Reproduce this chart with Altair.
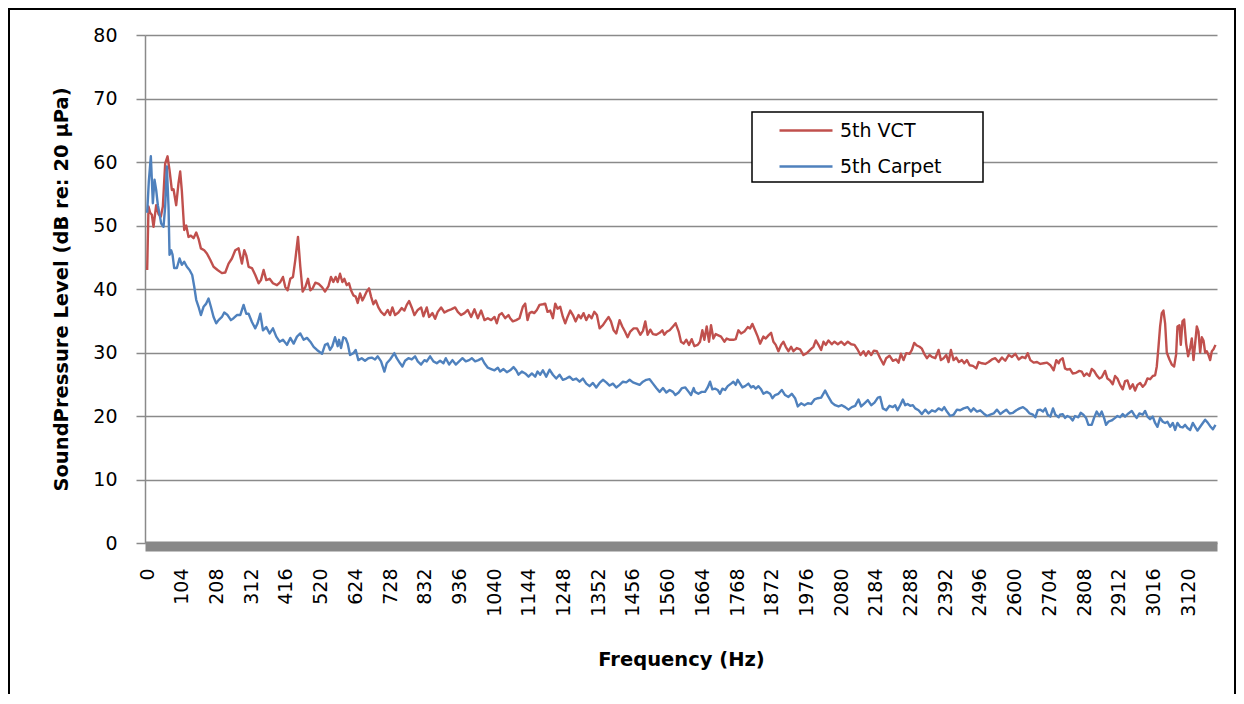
import altair as alt
import pandas as pd

series_names = ["5th VCT", "5th Carpet"]
series_colors = ["#C0504D", "#4F81BD"]
x_tick_values = [0, 104, 208, 312, 416, 520, 624, 728, 832, 936, 1040, 1144, 1248, 1352,
                 1456, 1560, 1664, 1768, 1872, 1976, 2080, 2184, 2288, 2392, 2496, 2600,
                 2704, 2808, 2912, 3016, 3120]
y_tick_values = [0, 10, 20, 30, 40, 50, 60, 70, 80]

# (frequency Hz, dB)
vct_points = [
    (0, 43.0), (4, 53.0), (9, 52.0), (14, 51.7), (19, 49.8), (27, 53.2), (34, 51.8), (41, 51.4),
    (47, 53.0), (54, 59.8), (61, 60.9), (67, 58.7), (74, 55.6), (79, 55.7), (87, 53.2), (94, 56.7),
    (99, 58.5), (104, 55.4), (111, 49.3), (117, 50.0), (124, 48.2), (131, 48.4), (139, 48.0),
    (147, 48.9), (154, 47.9), (161, 46.4), (171, 46.1), (179, 45.6), (189, 44.6), (199, 43.5),
    (211, 43.0), (224, 42.5), (234, 42.6), (244, 44.0), (254, 44.8), (264, 46.1), (274, 46.4),
    (284, 44.0), (291, 46.1), (297, 45.3), (304, 43.5), (314, 43.3), (324, 42.2), (334, 40.9),
    (341, 41.4), (349, 43.0), (357, 41.4), (367, 41.6), (377, 40.9), (389, 40.6), (399, 41.1),
    (407, 41.9), (414, 40.3), (421, 39.8), (429, 41.6), (437, 41.9), (444, 44.6), (452, 48.2),
    (459, 43.5), (466, 39.6), (474, 40.3), (482, 41.6), (489, 39.8), (496, 40.1), (504, 41.0),
    (514, 40.8), (524, 40.3),
    (533, 39.6), (543, 40.4), (551, 41.9), (558, 41.1), (565, 41.9), (571, 41.1), (578, 42.4),
    (585, 41.1), (591, 41.6), (598, 40.6), (605, 40.9), (611, 39.8), (618, 39.0), (625, 38.8),
    (631, 37.8), (638, 39.3), (645, 38.2), (651, 38.8), (658, 39.6), (665, 40.1), (671, 38.8),
    (678, 37.6), (685, 38.2), (693, 37.1), (701, 36.4), (711, 35.9), (721, 36.7), (728, 35.9),
    (735, 37.1), (743, 35.9), (753, 36.3), (763, 37.0), (771, 36.6), (778, 37.5), (785, 38.1),
    (793, 37.1), (801, 35.9), (811, 36.7), (821, 37.1), (828, 35.7), (838, 37.1), (845, 35.6),
    (855, 36.2), (863, 35.3), (871, 36.4), (881, 37.1), (891, 36.3), (901, 36.6), (911, 36.8),
    (923, 37.1), (931, 36.4), (941, 35.9), (951, 36.2), (961, 36.7), (971, 35.6), (981, 36.8),
    (991, 35.4), (1001, 36.6), (1011, 35.1), (1021, 35.4), (1031, 35.1), (1041, 35.6),
    (1048, 34.6), (1055, 35.9), (1063, 36.2), (1073, 35.4), (1083, 35.9),
    (1088, 35.4), (1096, 34.9), (1106, 35.1), (1116, 35.4), (1126, 37.2), (1133, 37.7),
    (1140, 35.1), (1146, 36.2), (1153, 36.4), (1160, 36.2), (1168, 36.7), (1176, 37.5),
    (1186, 37.6), (1193, 37.7), (1200, 36.4), (1208, 36.6), (1216, 35.4), (1223, 37.7),
    (1230, 36.9), (1238, 37.2), (1246, 35.6), (1253, 34.6), (1260, 35.6), (1268, 36.6),
    (1276, 35.9), (1284, 34.9), (1293, 35.9), (1300, 35.4), (1308, 36.2), (1316, 35.1),
    (1324, 35.9), (1332, 35.4), (1340, 36.4), (1348, 35.9), (1356, 33.8), (1366, 34.3),
    (1376, 35.1), (1383, 35.6), (1390, 34.9), (1398, 33.5), (1406, 33.0), (1416, 35.1),
    (1424, 34.1), (1432, 33.3), (1440, 32.4), (1448, 33.3), (1458, 33.8), (1468, 33.8),
    (1478, 32.8), (1486, 33.4), (1493, 34.9), (1500, 32.8), (1508, 33.6), (1516, 32.9),
    (1526, 32.8), (1536, 33.1), (1544, 33.5), (1550, 32.8), (1558, 33.3), (1566, 33.5),
    (1576, 34.1), (1584, 34.6), (1593, 33.3), (1600, 31.7), (1608, 31.4), (1616, 32.0),
    (1624, 31.2), (1632, 32.1), (1640, 31.0),
    (1650, 31.2), (1657, 31.7), (1664, 33.5), (1670, 32.0), (1677, 34.1), (1684, 31.7),
    (1690, 34.3), (1697, 32.2), (1704, 32.9), (1712, 32.7), (1720, 32.5), (1730, 31.7),
    (1737, 32.2), (1747, 32.0), (1757, 32.0), (1764, 32.1), (1772, 33.5), (1780, 33.0),
    (1790, 33.3), (1800, 34.0), (1807, 33.8), (1814, 34.5), (1822, 33.5), (1830, 32.5),
    (1837, 31.4), (1847, 32.5), (1854, 32.2), (1862, 32.7), (1870, 33.1), (1877, 31.7),
    (1884, 31.2), (1892, 30.2), (1900, 31.2), (1907, 31.7), (1914, 30.9), (1922, 30.2),
    (1930, 30.9), (1937, 30.2), (1947, 30.7), (1957, 30.5), (1967, 29.6), (1977, 29.9),
    (1987, 30.4), (1997, 30.9), (2004, 31.9), (2012, 31.2), (2020, 30.4), (2027, 31.7),
    (2034, 31.2), (2042, 31.9), (2052, 31.3), (2060, 31.7), (2070, 31.3), (2080, 31.7),
    (2090, 31.2), (2100, 31.7), (2110, 31.3), (2120, 31.2), (2130, 30.4), (2138, 29.6),
    (2147, 30.2), (2154, 29.5), (2162, 30.2), (2170, 29.6), (2178, 30.3), (2187, 30.2),
    (2197, 29.1), (2207, 28.1), (2215, 29.1), (2225, 29.5), (2235, 28.7), (2245, 28.9),
    (2252, 28.4), (2259, 29.8), (2267, 28.8), (2275, 29.9), (2285, 29.8), (2292, 30.4),
    (2299, 31.5), (2307, 31.1), (2315, 30.9), (2322, 30.6), (2329, 29.8), (2337, 29.1),
    (2345, 29.6), (2352, 29.3), (2362, 29.1), (2372, 30.4), (2379, 28.8), (2387, 29.1),
    (2395, 29.6), (2402, 28.5), (2409, 30.4), (2417, 28.8), (2425, 29.2), (2433, 28.5),
    (2442, 28.8), (2449, 28.3), (2457, 28.8), (2465, 28.0), (2475, 27.9), (2485, 27.5),
    (2492, 28.5), (2502, 28.3), (2512, 28.2), (2522, 28.5), (2532, 28.9), (2542, 29.1),
    (2552, 28.5), (2562, 29.2), (2572, 28.7), (2582, 29.6), (2592, 29.3), (2602, 29.8),
    (2612, 28.9), (2622, 29.3), (2632, 29.1), (2639, 29.9), (2647, 28.8), (2657, 28.4),
    (2667, 28.5), (2677, 28.2), (2687, 28.3), (2697, 28.4), (2707, 28.0), (2717, 27.2),
    (2725, 28.8), (2732, 28.3),
    (2736, 28.8), (2744, 29.1), (2751, 27.5), (2758, 27.3), (2766, 27.4), (2774, 26.7),
    (2784, 26.8), (2794, 27.1), (2801, 27.0), (2808, 26.3), (2816, 26.7), (2824, 26.3),
    (2831, 27.4), (2838, 27.1), (2846, 26.4), (2854, 25.9), (2861, 26.1), (2871, 27.1),
    (2878, 25.9), (2886, 25.6), (2894, 25.0), (2901, 26.3), (2908, 25.9), (2916, 24.9),
    (2924, 24.2), (2931, 25.5), (2938, 25.6), (2946, 24.3), (2954, 25.0), (2961, 24.0),
    (2968, 24.9), (2976, 25.2), (2984, 24.6), (2991, 25.0), (2998, 25.9), (3006, 25.8),
    (3014, 26.3), (3021, 26.4), (3026, 27.8), (3031, 30.8), (3036, 34.1), (3041, 36.2),
    (3046, 36.6), (3051, 34.6), (3056, 30.0), (3064, 28.9), (3071, 28.1), (3078, 27.8),
    (3084, 29.7), (3088, 34.1), (3094, 34.3), (3098, 31.2), (3103, 34.9), (3108, 35.2),
    (3114, 31.4), (3120, 29.4), (3126, 30.7), (3131, 32.2), (3136, 28.8), (3141, 31.4),
    (3146, 34.1), (3151, 33.3), (3156, 30.0), (3161, 32.4), (3166, 31.9), (3171, 30.0),
    (3176, 30.2), (3181, 29.6), (3186, 28.8), (3191, 30.2), (3196, 30.5), (3202, 31.2),
]

carpet_points = [
    (0, 52.0), (5, 57.0), (11, 60.9), (17, 53.5), (22, 57.2), (27, 55.6), (32, 53.2), (37, 51.8),
    (42, 50.3), (49, 49.8), (54, 53.0), (59, 59.3), (64, 53.0), (67, 45.4), (72, 46.1), (76, 45.4),
    (81, 43.3), (89, 43.3), (97, 44.8), (104, 43.8), (111, 44.3), (119, 43.5), (127, 43.0),
    (135, 42.2), (141, 40.4), (147, 38.3), (154, 37.2), (161, 35.9), (169, 37.2), (177, 37.7),
    (184, 38.5), (191, 37.2), (199, 35.6), (207, 34.6), (214, 35.1), (224, 35.6), (231, 36.3),
    (241, 35.9), (251, 35.1), (259, 35.4), (269, 35.9), (279, 35.9), (289, 37.5), (297, 36.1),
    (304, 36.1), (314, 34.8), (324, 33.8), (331, 34.6), (339, 36.1), (347, 33.5), (357, 34.0),
    (367, 33.0), (377, 33.8), (387, 32.5), (397, 31.7), (407, 32.0), (419, 31.2), (429, 32.3),
    (439, 31.4), (449, 32.5), (459, 33.0), (469, 32.0), (479, 32.3), (489, 31.7), (499, 30.9),
    (509, 30.4), (524, 29.8),
    (533, 31.2), (541, 31.4), (548, 30.4), (555, 31.0), (563, 32.4), (571, 31.0), (575, 32.0),
    (581, 30.7), (588, 32.4), (595, 32.2), (601, 31.4), (608, 29.6), (618, 29.9), (625, 30.4),
    (633, 28.8), (643, 29.1), (653, 28.7), (663, 29.1), (673, 29.2), (683, 28.9), (691, 29.4),
    (701, 28.6), (711, 27.0), (718, 28.3), (728, 28.9), (741, 29.9), (748, 29.1), (758, 28.3),
    (765, 27.8), (773, 28.7), (783, 29.1), (793, 28.9), (803, 29.4), (811, 28.6), (821, 28.1),
    (831, 28.8), (838, 28.6), (848, 29.4), (858, 28.6), (868, 28.3), (878, 28.7), (888, 28.3),
    (895, 29.1), (905, 28.1), (915, 28.8), (925, 28.1), (935, 28.6), (945, 29.1), (955, 28.6),
    (965, 28.8), (973, 29.1), (983, 28.6), (993, 28.8), (1003, 29.1), (1011, 28.3), (1021, 27.6),
    (1031, 27.4), (1041, 27.2), (1051, 27.6), (1058, 27.0), (1068, 27.4), (1078, 26.9),
    (1088, 27.2), (1098, 27.7), (1106, 27.2), (1113, 26.5), (1123, 27.0), (1133, 26.7),
    (1143, 26.2), (1153, 26.7), (1163, 26.2), (1170, 27.0), (1178, 26.5), (1186, 27.2),
    (1196, 26.2), (1206, 27.3), (1216, 26.5), (1226, 25.9), (1236, 26.5), (1246, 25.7),
    (1256, 25.9), (1266, 26.2), (1276, 25.7), (1286, 25.9), (1296, 25.4), (1306, 25.9),
    (1316, 25.1), (1326, 24.7), (1336, 25.2), (1346, 24.5), (1356, 25.2), (1366, 25.7),
    (1376, 25.3), (1386, 24.8), (1396, 25.1), (1406, 24.5), (1416, 24.9), (1426, 25.4),
    (1436, 25.3), (1446, 25.7), (1456, 25.3), (1466, 25.1), (1476, 24.9), (1486, 25.4),
    (1496, 25.7), (1506, 25.8), (1516, 25.1), (1526, 24.4), (1536, 23.8), (1546, 24.4),
    (1556, 23.7), (1566, 24.1), (1576, 23.8), (1583, 23.3), (1593, 23.7), (1603, 24.4),
    (1613, 24.5), (1623, 23.8), (1630, 23.3), (1638, 24.4),
    (1642, 23.8), (1652, 23.5), (1662, 23.8), (1672, 23.8), (1680, 24.5), (1687, 25.4),
    (1694, 24.2), (1702, 24.3), (1710, 24.1), (1717, 23.5), (1724, 24.3), (1732, 24.1),
    (1740, 24.7), (1750, 25.1), (1757, 25.4), (1764, 24.9), (1770, 25.7), (1777, 25.1),
    (1784, 24.5), (1792, 24.7), (1802, 25.1), (1810, 24.5), (1817, 24.7), (1824, 24.3),
    (1832, 24.7), (1840, 24.2), (1847, 23.5), (1857, 23.8), (1867, 23.5), (1874, 22.8),
    (1882, 23.3), (1892, 23.5), (1902, 24.1), (1912, 23.3), (1922, 23.0), (1932, 23.5),
    (1942, 22.8), (1950, 21.5), (1960, 22.0), (1970, 21.7), (1980, 22.0), (1990, 21.9),
    (2000, 22.6), (2010, 22.8), (2020, 22.9), (2032, 24.0), (2042, 23.0), (2052, 22.1),
    (2062, 21.7), (2072, 21.5), (2082, 21.7), (2092, 21.4), (2102, 21.0), (2112, 21.4),
    (2122, 21.6), (2132, 22.6), (2140, 21.5), (2150, 22.0), (2160, 22.5), (2170, 21.7),
    (2180, 22.1), (2190, 22.9),
    (2197, 23.0), (2205, 21.2), (2215, 20.9), (2225, 21.6), (2235, 21.4), (2242, 21.7),
    (2249, 20.9), (2257, 21.7), (2265, 22.6), (2272, 21.7), (2279, 21.9), (2287, 21.6),
    (2295, 21.7), (2302, 21.2), (2312, 20.9), (2322, 20.3), (2332, 21.0), (2342, 20.4),
    (2352, 20.9), (2362, 20.7), (2372, 21.2), (2382, 20.9), (2389, 21.4), (2397, 20.7),
    (2407, 20.0), (2417, 20.2), (2427, 21.0), (2437, 20.9), (2447, 21.2), (2459, 21.4),
    (2469, 20.7), (2477, 21.2), (2487, 20.7), (2497, 20.9), (2507, 20.4), (2517, 20.0),
    (2527, 20.2), (2537, 20.4), (2547, 21.0), (2557, 20.3), (2567, 20.7), (2575, 21.0),
    (2585, 20.4), (2595, 20.5), (2605, 20.9), (2615, 21.2), (2625, 21.4), (2635, 21.0),
    (2645, 20.4), (2655, 20.2), (2662, 19.8), (2669, 20.9), (2677, 21.0), (2685, 20.7),
    (2692, 21.2), (2699, 20.2), (2707, 19.9), (2715, 21.2), (2722, 20.2), (2732, 19.8),
    (2736, 20.2), (2744, 20.3), (2751, 19.7), (2758, 20.0), (2766, 19.8), (2774, 19.3),
    (2781, 20.0), (2791, 19.8), (2798, 20.5), (2806, 20.2), (2814, 19.7), (2821, 18.6),
    (2831, 18.6), (2838, 19.7), (2846, 20.7), (2854, 20.0), (2861, 20.7), (2868, 19.7),
    (2874, 18.6), (2881, 19.1), (2891, 19.3), (2901, 19.7), (2908, 20.0), (2916, 19.8),
    (2924, 20.3), (2931, 19.9), (2941, 20.4), (2951, 20.8), (2958, 20.2), (2966, 19.7),
    (2974, 20.4), (2984, 20.2), (2991, 20.8), (2998, 19.9), (3006, 19.5), (3014, 19.9),
    (3021, 18.9), (3028, 18.3), (3036, 19.7), (3044, 19.1), (3051, 18.9), (3058, 19.1),
    (3066, 18.3), (3074, 18.9), (3081, 17.8), (3088, 18.9), (3096, 18.3), (3104, 18.2),
    (3111, 18.6), (3118, 18.1), (3126, 17.8), (3134, 18.9), (3141, 18.3), (3148, 17.7),
    (3156, 18.3), (3164, 18.9), (3171, 19.4), (3178, 19.0), (3186, 18.4), (3194, 17.9),
    (3202, 18.6),
]

rows = []
for name, pts in zip(series_names, [vct_points, carpet_points]):
    for f, v in pts:
        rows.append({"freq": f, "db": v, "series": name})
df = pd.DataFrame(rows)

FONT = "DejaVu Sans"
GRID = "#8a8a8a"

lines = alt.Chart(df).mark_line(strokeWidth=2.4, strokeJoin="round").encode(
    x=alt.X(
        "freq:Q",
        scale=alt.Scale(domain=[-6.5, 3206.5], nice=False, zero=False),
        axis=alt.Axis(
            values=x_tick_values, format="d", labelAngle=270, title="Frequency (Hz)",
            grid=False, ticks=False, domainColor="#888888", domainWidth=10, offset=3,
            labelPadding=22, labelOverlap=False, labelFlush=False,
            titlePadding=34, titleFontSize=19.5, titleFontWeight="bold",
        ),
    ),
    y=alt.Y(
        "db:Q",
        scale=alt.Scale(domain=[0, 80], nice=False),
        axis=alt.Axis(
            values=y_tick_values, title="SoundPressure Level (dB re: 20 µPa)",
            grid=True, gridColor=GRID, gridWidth=1.5, tickColor=GRID, tickSize=9,
            tickWidth=1.5, domainColor=GRID, domainWidth=1.5, labelPadding=19,
            titlePadding=21, titleFontSize=19.5, titleFontWeight="bold",
        ),
    ),
    color=alt.Color(
        "series:N",
        scale=alt.Scale(domain=series_names, range=series_colors),
        sort=series_names,
        legend=alt.Legend(
            orient="none", legendX=635, legendY=84, title=None,
            symbolType="M-1.2,0H4.1", symbolSize=400, symbolStrokeWidth=2.5,
            labelOffset=37, rowPadding=14, labelFontSize=19, labelFont=FONT,
            labelColor="black", padding=0,
        ),
    ),
)

legend_box = alt.Chart(pd.DataFrame({"k": [0]})).mark_rect(
    fill="white", stroke="black", strokeWidth=1.5
).encode(x=alt.value(607), x2=alt.value(838), y=alt.value(77), y2=alt.value(147))

frame = alt.Chart(pd.DataFrame({"k": [0]})).mark_rect(
    fill="transparent", stroke="black", strokeWidth=2
).encode(x=alt.value(-136), x2=alt.value(1090), y=alt.value(-26), y2=alt.value(720))

chart = alt.layer(lines, legend_box, frame).properties(
    width=1072, height=508,
    autosize=alt.AutoSizeParams(type="none"),
    padding={"left": 137, "top": 27, "right": 19, "bottom": 151},
).configure_axis(
    labelFont=FONT, labelFontSize=19, labelColor="black",
    titleFont=FONT, titleColor="black",
).configure_view(strokeWidth=0)

chart.save("out.html", embed_options={"renderer": "svg", "actions": False})
